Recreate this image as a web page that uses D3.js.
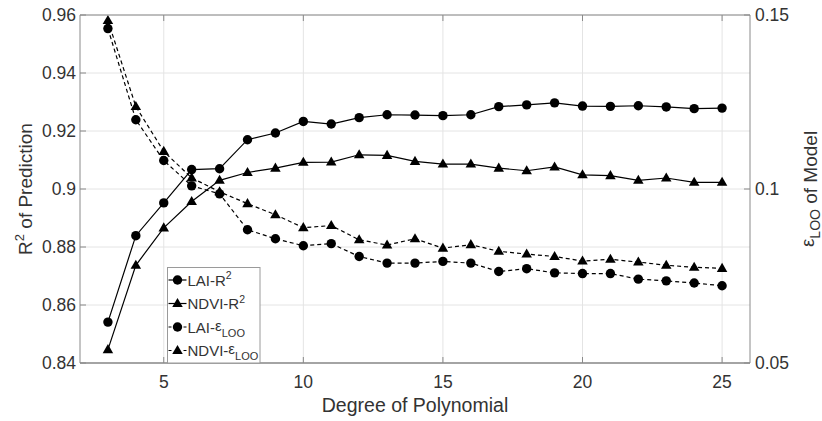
<!DOCTYPE html>
<html><head><meta charset="utf-8">
<script src="https://cdn.jsdelivr.net/npm/d3@7"></script>
<style>
html,body{margin:0;padding:0;background:#fff;}
svg{display:block;font-family:"Liberation Sans",Arial,Helvetica,sans-serif;}
</style></head>
<body><svg id="c" width="822" height="421"></svg>
<script>
const degrees = [3,4,5,6,7,8,9,10,11,12,13,14,15,16,17,18,19,20,21,22,23,24,25];
const laiR2  = [0.8541,0.8839,0.8952,0.9067,0.9070,0.9170,0.9193,0.9233,0.9224,0.9246,0.9256,0.9255,0.9253,0.9256,0.9284,0.9290,0.9297,0.9286,0.9285,0.9287,0.9283,0.9277,0.9279];
const ndviR2 = [0.8446,0.8737,0.8866,0.8957,0.9030,0.9057,0.9072,0.9092,0.9093,0.9118,0.9116,0.9095,0.9086,0.9086,0.9072,0.9063,0.9076,0.9049,0.9046,0.9030,0.9038,0.9023,0.9023];
const laiEps = [0.1461,0.1199,0.1082,0.1009,0.0986,0.0883,0.0857,0.0837,0.0843,0.0806,0.0787,0.0787,0.0792,0.0787,0.0763,0.0771,0.0759,0.0757,0.0757,0.0741,0.0736,0.0730,0.0722];
const ndviEps= [0.1484,0.1237,0.1108,0.1032,0.0992,0.0958,0.0926,0.0889,0.0895,0.0854,0.0839,0.0857,0.0830,0.0840,0.0821,0.0813,0.0806,0.0793,0.0798,0.0790,0.0781,0.0775,0.0772];
const xTicks = [5,10,15,20,25];
const yLeftTicks = [0.84,0.86,0.88,0.9,0.92,0.94,0.96];
const yLeftLabels = ["0.84","0.86","0.88","0.9","0.92","0.94","0.96"];
const yRightTicks = [0.05,0.1,0.15];
const yRightLabels = ["0.05","0.1","0.15"];

const L=80,R=750,T=15,B=363;
const x = d3.scaleLinear().domain([2,26]).range([L,R]);
const yL = d3.scaleLinear().domain([0.84,0.96]).range([B,T]);
const yR = d3.scaleLinear().domain([0.05,0.15]).range([B,T]);
const svg = d3.select("#c");
const axisCol="#8a8a8a", txtCol="#333";

// grid
const g = svg.append("g");
g.selectAll(".gx").data(xTicks).enter().append("line")
 .attr("x1",d=>x(d)).attr("x2",d=>x(d)).attr("y1",T).attr("y2",B)
 .attr("stroke","#e4e4e4").attr("stroke-width",1);
g.selectAll(".gy").data(yLeftTicks).enter().append("line")
 .attr("x1",L).attr("x2",R).attr("y1",d=>yL(d)).attr("y2",d=>yL(d))
 .attr("stroke","#e4e4e4").attr("stroke-width",1);

// series
const series = [
 {vals:laiR2, y:yL, dash:null, sym:d3.symbolCircle},
 {vals:ndviR2, y:yL, dash:null, sym:d3.symbolTriangle},
 {vals:laiEps, y:yR, dash:"4,3", sym:d3.symbolCircle},
 {vals:ndviEps, y:yR, dash:"4,3", sym:d3.symbolTriangle}
];
const circSize = Math.PI*4.7*4.7, triSize = 48;
series.forEach(s=>{
  const pts = degrees.map((d,i)=>[x(d), s.y(s.vals[i])]);
  svg.append("path").attr("d", d3.line()(pts)).attr("fill","none")
    .attr("stroke","#000").attr("stroke-width",1.2)
    .attr("stroke-dasharray", s.dash);
  const sym = d3.symbol().type(s.sym).size(s.sym===d3.symbolCircle?circSize:triSize);
  svg.append("g").selectAll("path").data(pts).enter().append("path")
    .attr("d", sym).attr("transform", p=>`translate(${p[0]},${p[1]+(s.sym===d3.symbolTriangle?0.5:0)})`)
    .attr("fill","#000");
});

// axes box
const ax = svg.append("g").attr("stroke",axisCol).attr("fill","none");
ax.append("line").attr("x1",L).attr("x2",R).attr("y1",T).attr("y2",T).attr("stroke-width",1);
ax.append("line").attr("x1",L).attr("x2",R).attr("y1",B).attr("y2",B).attr("stroke-width",1.5);
ax.append("line").attr("x1",L).attr("x2",L).attr("y1",T).attr("y2",B).attr("stroke-width",1);
ax.append("line").attr("x1",R).attr("x2",R).attr("y1",T).attr("y2",B).attr("stroke-width",1);
// ticks
xTicks.forEach(t=>{
  ax.append("line").attr("x1",x(t)).attr("x2",x(t)).attr("y1",B).attr("y2",B-6);
  ax.append("line").attr("x1",x(t)).attr("x2",x(t)).attr("y1",T).attr("y2",T+6);
});
yLeftTicks.forEach(t=>{
  ax.append("line").attr("x1",L).attr("x2",L+6).attr("y1",yL(t)).attr("y2",yL(t));
});
yRightTicks.forEach(t=>{
  ax.append("line").attr("x1",R).attr("x2",R-6).attr("y1",yR(t)).attr("y2",yR(t));
});

// tick labels
const fs=17.5;
svg.append("g").selectAll("text").data(xTicks).enter().append("text")
 .attr("x",d=>x(d)).attr("y",388).attr("text-anchor","middle")
 .attr("font-size",fs).attr("fill",txtCol).text(d=>d);
svg.append("g").selectAll("text").data(yLeftTicks).enter().append("text")
 .attr("x",76).attr("y",d=>yL(d)+6).attr("text-anchor","end")
 .attr("font-size",fs).attr("fill",txtCol).text((d,i)=>yLeftLabels[i]);
svg.append("g").selectAll("text").data(yRightTicks).enter().append("text")
 .attr("x",755).attr("y",d=>yR(d)+6).attr("text-anchor","start")
 .attr("font-size",fs).attr("fill",txtCol).text((d,i)=>yRightLabels[i]);

// axis titles
svg.append("text").attr("x",(L+R)/2).attr("y",412).attr("text-anchor","middle")
 .attr("font-size",19.5).attr("fill",txtCol).text("Degree of Polynomial");
const yt = svg.append("text").attr("transform",`translate(32,${(T+B)/2}) rotate(-90)`)
 .attr("text-anchor","middle").attr("font-size",19).attr("fill",txtCol);
yt.append("tspan").text("R");
yt.append("tspan").attr("dy",-8).attr("font-size",13).text("2");
yt.append("tspan").attr("dy",8).text(" of Prediction");
const rt = svg.append("text").attr("transform",`translate(817,${(T+B)/2}) rotate(-90)`)
 .attr("text-anchor","middle").attr("font-size",19).attr("fill",txtCol);
rt.append("tspan").attr("dy",-3).text("ε");
rt.append("tspan").attr("dy",6).attr("font-size",14).text("LOO");
rt.append("tspan").attr("dy",-3).text(" of Model");

// legend
const lg = svg.append("g");
lg.append("rect").attr("x",167.5).attr("y",267.5).attr("width",92.5).attr("height",B-267.5)
  .attr("fill","#fff").attr("stroke","#9a9a9a").attr("stroke-width",1);
const legendNames = [["LAI-","R","2",null],["NDVI-","R","2",null],["LAI-","ε",null,"LOO"],["NDVI-","ε",null,"LOO"]];
const rowY = [280,303.5,327,350.5];
series.forEach((s,i)=>{
  const yy=rowY[i];
  lg.append("line").attr("x1",168.5).attr("x2",186.5).attr("y1",yy).attr("y2",yy)
    .attr("stroke","#000").attr("stroke-width",1.2).attr("stroke-dasharray",s.dash?"3,12":null);
  lg.append("path").attr("d",d3.symbol().type(s.sym).size(s.sym===d3.symbolCircle?circSize:triSize)())
    .attr("transform",`translate(177.5,${yy+(s.sym===d3.symbolTriangle?0.5:0)})`).attr("fill","#000");
  const n=legendNames[i];
  const t = lg.append("text").attr("x",187.5).attr("y",yy+5.5).attr("font-size",15).attr("fill",txtCol);
  t.append("tspan").text(n[0]);
  if(n[2]){
    t.append("tspan").text(n[1]);
    t.append("tspan").attr("dy",-6.5).attr("font-size",10.5).text(n[2]);
  } else {
    t.append("tspan").attr("dy",-2).text(n[1]);
    t.append("tspan").attr("dy",6).attr("font-size",11).text(n[3]);
  }
});
</script></body></html>
